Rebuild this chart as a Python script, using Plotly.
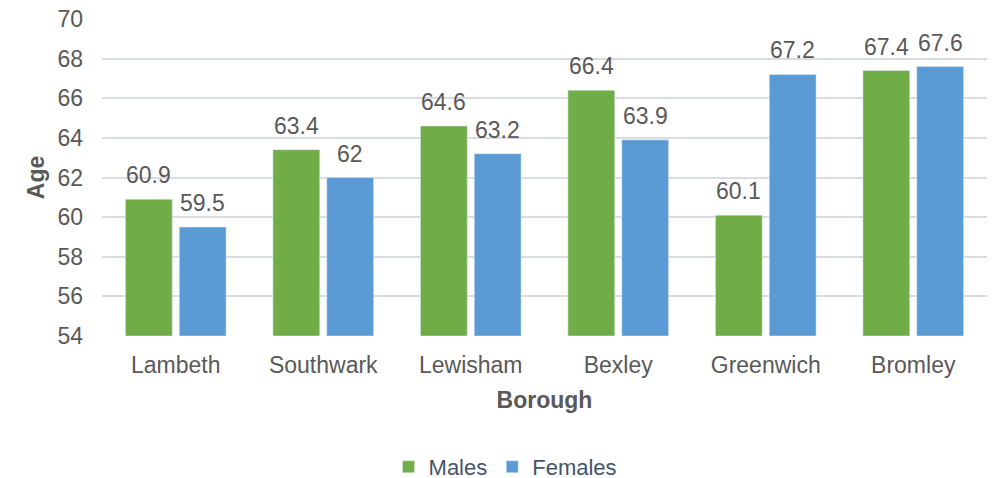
import plotly.graph_objects as go

boroughs = ["Lambeth", "Southwark", "Lewisham", "Bexley", "Greenwich", "Bromley"]
males = [60.9, 63.4, 64.6, 66.4, 60.1, 67.4]
females = [59.5, 62, 63.2, 63.9, 67.2, 67.6]
y_ticks = [54, 56, 58, 60, 62, 64, 66, 68, 70]

FONT = "Liberation Sans, Arial, sans-serif"
GREY = "#595959"
SIZE = 23

W, H = 997, 478
ML, MR, MT, MB = 102, 10, 19, 142
BARGAP, GROUPGAP = 0.27, 0.13

fig = go.Figure()
series = [("Males", males, "#70AD47"), ("Females", females, "#5B9BD5")]
for name, vals, color in series:
    fig.add_trace(go.Bar(
        name=name, x=boroughs, y=[v - 54 for v in vals], base=54,
        marker=dict(color=color), cliponaxis=False,
        hovertext=[f"{v:g}" for v in vals], hoverinfo="x+text",
    ))

# value labels above each bar, offset to the centre of its slot in the group
cat_px = (W - ML - MR) / len(boroughs)
slot_px = cat_px * (1 - BARGAP) / len(series)
for i, (name, vals, color) in enumerate(series):
    dx = (i - (len(series) - 1) / 2) * slot_px
    for b, v in zip(boroughs, vals):
        fig.add_annotation(
            x=b, y=v, text=f"{v:g}", showarrow=False,
            xshift=dx, yshift=9, yanchor="bottom",
            font=dict(size=SIZE, color=GREY, family=FONT),
        )

fig.update_layout(
    width=W, height=H,
    margin=dict(l=ML, r=MR, t=MT, b=MB, autoexpand=False),
    paper_bgcolor="white", plot_bgcolor="white",
    barmode="group", bargap=BARGAP, bargroupgap=GROUPGAP,
    font=dict(family=FONT, color=GREY, size=SIZE),
    showlegend=True,
    legend=dict(orientation="h", x=0.456, xanchor="center", y=-0.413, yanchor="middle",
                font=dict(size=22, color="#44546A", family=FONT),
                bgcolor="rgba(0,0,0,0)", traceorder="normal"),
)
fig.update_xaxes(
    tickfont=dict(size=SIZE, color=GREY), showgrid=False, ticks="",
    showline=False, automargin=False, ticklabelstandoff=13,
    title=dict(text="<b>Borough</b>", font=dict(size=SIZE, color=GREY), standoff=14),
)
fig.update_yaxes(
    range=[54, 70], tickvals=y_ticks, tickfont=dict(size=SIZE, color=GREY),
    showgrid=True, gridcolor="#D9DDE3", gridwidth=1.5, zeroline=False,
    ticks="", ticklabelstandoff=18, automargin=False,
    title=dict(text="<b>Age</b>", font=dict(size=SIZE, color=GREY), standoff=6),
)

fig.write_html("out.html")
